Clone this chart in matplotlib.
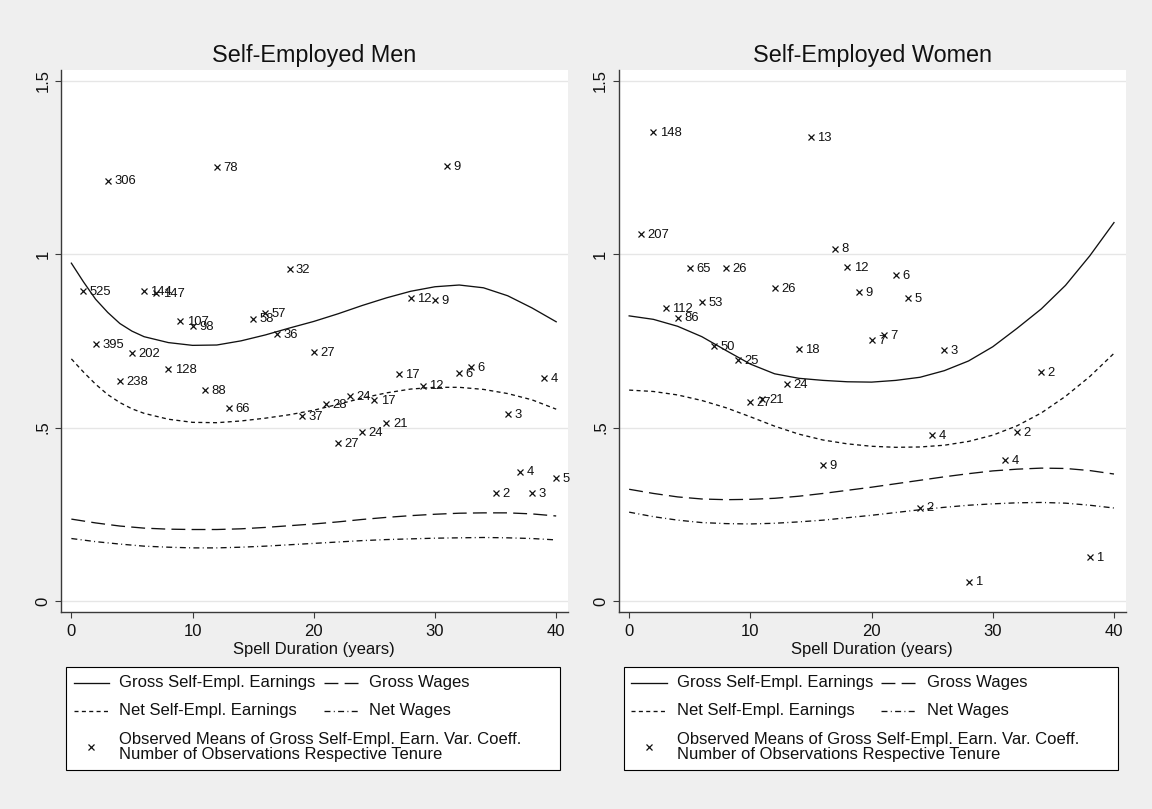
import matplotlib
matplotlib.use('Agg')
import matplotlib.pyplot as plt
from matplotlib.lines import Line2D
from matplotlib.patches import Rectangle

plt.rcParams['font.family'] = ['Liberation Sans', 'DejaVu Sans']
plt.rcParams['lines.scale_dashes'] = False

# fitted profiles
yrs = [0, 2, 4, 6, 8, 10, 12, 14, 16, 18, 20, 22, 24, 26, 28, 30, 32, 34, 36, 38, 40]
yrs_fine = [0, 1, 2, 3, 4, 5, 6, 8, 10, 12, 14, 16, 18, 20, 22, 24, 26, 28, 30, 32, 34, 36, 38, 40]

men_gse = [0.974, 0.920, 0.870, 0.832, 0.800, 0.778, 0.762, 0.745, 0.737, 0.738, 0.750, 0.767,
           0.787, 0.806, 0.828, 0.852, 0.874, 0.893, 0.906, 0.911, 0.903, 0.880, 0.845, 0.805]
men_nse = [0.698, 0.660, 0.625, 0.595, 0.572, 0.554, 0.541, 0.524, 0.515, 0.514, 0.519, 0.527,
           0.537, 0.550, 0.567, 0.585, 0.600, 0.611, 0.616, 0.616, 0.610, 0.598, 0.580, 0.553]
men_gw = [0.236, 0.225, 0.216, 0.210, 0.207, 0.206, 0.206, 0.208, 0.212, 0.217, 0.222,
          0.228, 0.235, 0.241, 0.246, 0.250, 0.253, 0.254, 0.254, 0.251, 0.245]
men_nw = [0.180, 0.171, 0.164, 0.158, 0.155, 0.153, 0.153, 0.155, 0.158, 0.162, 0.166,
          0.170, 0.174, 0.177, 0.179, 0.181, 0.182, 0.183, 0.182, 0.180, 0.176]

wom_gse = [0.822, 0.812, 0.792, 0.762, 0.722, 0.683, 0.655, 0.642, 0.636, 0.632, 0.631,
           0.636, 0.645, 0.664, 0.692, 0.733, 0.786, 0.842, 0.910, 0.995, 1.091]
wom_nse = [0.608, 0.604, 0.594, 0.578, 0.557, 0.531, 0.504, 0.481, 0.464, 0.453, 0.446,
           0.443, 0.444, 0.449, 0.460, 0.478, 0.505, 0.542, 0.590, 0.647, 0.714]
wom_gw = [0.322, 0.310, 0.300, 0.294, 0.292, 0.293, 0.296, 0.302, 0.310, 0.319, 0.328,
          0.338, 0.348, 0.358, 0.367, 0.375, 0.380, 0.383, 0.382, 0.376, 0.366]
wom_nw = [0.256, 0.243, 0.233, 0.226, 0.223, 0.222, 0.224, 0.228, 0.233, 0.240, 0.247,
          0.255, 0.263, 0.270, 0.276, 0.280, 0.283, 0.284, 0.282, 0.276, 0.268]

# observed means and number of observations
men_x = [1, 2, 3, 4, 5, 6, 7, 8, 9, 10, 11, 12, 13, 15, 16, 17, 18, 19, 20, 21, 22, 23, 24,
         25, 26, 27, 28, 29, 30, 31, 32, 33, 35, 36, 37, 38, 39, 40]
men_y = [0.894, 0.740, 1.212, 0.633, 0.714, 0.894, 0.887, 0.668, 0.807, 0.793, 0.608, 1.252,
         0.557, 0.814, 0.831, 0.770, 0.957, 0.532, 0.717, 0.568, 0.455, 0.591, 0.486, 0.578,
         0.512, 0.655, 0.873, 0.621, 0.868, 1.254, 0.658, 0.674, 0.311, 0.538, 0.373, 0.312,
         0.643, 0.354]
men_n = [525, 395, 306, 238, 202, 144, 147, 128, 107, 98, 88, 78, 66, 58, 57, 36, 32, 37, 27,
         28, 27, 24, 24, 17, 21, 17, 12, 12, 9, 9, 6, 6, 2, 3, 4, 3, 4, 5]

wom_x = [1, 2, 3, 4, 5, 6, 7, 8, 9, 10, 11, 12, 13, 14, 15, 16, 17, 18, 19, 20, 21, 22, 23,
         24, 25, 26, 28, 31, 32, 34, 38]
wom_y = [1.058, 1.351, 0.844, 0.817, 0.961, 0.861, 0.736, 0.959, 0.695, 0.573, 0.582, 0.903,
         0.625, 0.726, 1.337, 0.392, 1.016, 0.962, 0.891, 0.753, 0.767, 0.939, 0.873, 0.269,
         0.479, 0.724, 0.056, 0.407, 0.486, 0.659, 0.126]
wom_n = [207, 148, 112, 86, 65, 53, 50, 26, 25, 27, 21, 26, 24, 18, 13, 9, 8, 12, 9, 7, 7, 6,
         5, 2, 4, 3, 1, 4, 2, 2, 1]

legend_labels = ['Gross Self-Empl. Earnings', 'Gross Wages', 'Net Self-Empl. Earnings', 'Net Wages',
                 'Observed Means of Gross Self-Empl. Earn. Var. Coeff.\nNumber of Observations Respective Tenure']

INK = '#111111'
AXC = '#3a3a3a'
sty = {
    'gse': dict(color=INK, lw=0.95, ls='-'),
    'nse': dict(color=INK, lw=0.95, ls=(0, (2.9, 2.4))),
    'gw': dict(color=INK, lw=0.95, ls=(0, (10, 4.5))),
    'nw': dict(color=INK, lw=0.95, ls=(0, (4.3, 2.4, 0.7, 2.4))),
}

W, H = 1152, 809
fig = plt.figure(figsize=(W / 100, H / 100), dpi=100, facecolor='#efefef')


def fx(p):
    return p / W


def fy(p):
    return 1 - p / H


def panel(left, title, xf, gse, x2, nse, gw, nw, px, py, pn):
    ax = fig.add_axes([fx(left), fy(611.7), 507 / W, 541.7 / H])
    ax.set_facecolor('white')
    ax.plot(xf, gse, **sty['gse'])
    ax.plot(x2, nse, **sty['nse'])
    ax.plot(yrs, gw, **sty['gw'])
    ax.plot(yrs, nw, **sty['nw'])
    ax.plot(px, py, 'x', color=INK, ms=4.8, mew=0.9)
    for a, b, n in zip(px, py, pn):
        ax.annotate(str(n), (a, b), xytext=(4.6, -0.6), textcoords='offset points',
                    fontsize=9.4, va='center', ha='left', color=INK)
    ax.set_xlim(-0.88, 40.95)
    ax.set_ylim(-0.031, 1.531)
    ax.set_xticks([0, 10, 20, 30, 40])
    ax.set_yticks([0, 0.5, 1, 1.5])
    ax.set_yticklabels(['0', '.5', '1', '1.5'], rotation=90, va='center')
    ax.yaxis.grid(True, color='#e6e6e6', lw=1.0)
    ax.set_axisbelow(True)
    for s in ['top', 'right']:
        ax.spines[s].set_visible(False)
    for s in ['left', 'bottom']:
        ax.spines[s].set_color(AXC)
        ax.spines[s].set_linewidth(1.0)
    ax.tick_params(direction='out', length=4.5, width=0.8, color=AXC, labelsize=12,
                   labelcolor=INK)
    ax.tick_params(axis='y', pad=3)
    ax.tick_params(axis='x', pad=4)
    ax.set_title(title, fontsize=16.8, pad=5.8, color=INK)
    ax.set_xlabel('Spell Duration (years)', fontsize=12, labelpad=2.4, color=INK)
    return ax


def legend_box(x0):
    fig.add_artist(Rectangle((fx(x0), fy(770)), 494 / W, (770 - 666.7) / H,
                             transform=fig.transFigure, facecolor='white',
                             edgecolor='black', lw=0.8))
    rows = [(682.7, 7.2, 'gse', 0), (682.7, 257.2, 'gw', 1),
            (710.7, 7.2, 'nse', 2), (710.7, 257.2, 'nw', 3)]
    for yy, dx, key, i in rows:
        fig.add_artist(Line2D([fx(x0 + dx), fx(x0 + dx + 35.4)], [fy(yy), fy(yy)],
                              transform=fig.transFigure, **sty[key]))
        fig.text(fx(x0 + dx + 45.4), fy(yy), legend_labels[i], fontsize=12,
                 va='center', ha='left', color=INK)
    fig.add_artist(Line2D([fx(x0 + 25)], [fy(747)], transform=fig.transFigure,
                          marker='x', ls='none', color=INK, ms=4.8, mew=0.9))
    fig.text(fx(x0 + 52.6), fy(747), legend_labels[4], fontsize=12, va='center',
             ha='left', color=INK, linespacing=0.95)


panel(60.7, 'Self-Employed Men', yrs_fine, men_gse, yrs_fine, men_nse, men_gw, men_nw,
      men_x, men_y, men_n)
panel(618.5, 'Self-Employed Women', yrs, wom_gse, yrs, wom_nse, wom_gw, wom_nw,
      wom_x, wom_y, wom_n)
legend_box(66.4)
legend_box(624.2)

fig.savefig('out.png', dpi=100, facecolor=fig.get_facecolor())
